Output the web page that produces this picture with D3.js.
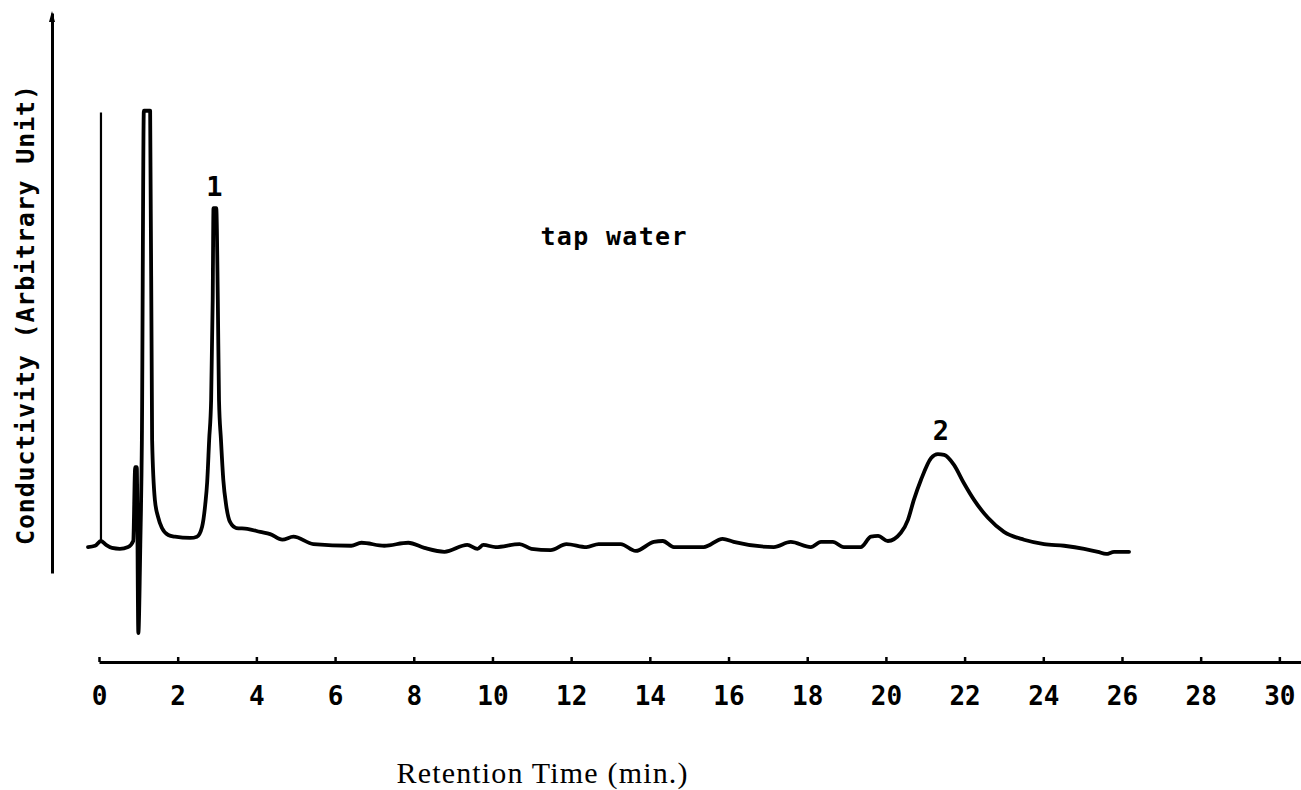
<!DOCTYPE html>
<html>
<head>
<meta charset="utf-8">
<script src="https://cdn.jsdelivr.net/npm/d3@7"></script>
<style>
    body { margin: 0; background: #fff; }
    svg { display: block; }
    .mono { font-family: "DejaVu Sans Mono", monospace; font-weight: bold; }
</style>
</head>
<body>
<div id="wrapper"></div>
<script>

// retention time (min) and conductivity (arbitrary unit)
const times = [
    -0.28, -0.10, 0.05, 0.18, 0.33, 0.53, 0.74, 0.87, 0.92, 0.96,
    1.00, 1.05, 1.09, 1.14, 1.30, 1.35, 1.42, 1.50, 1.60, 1.76,
    1.93, 2.32, 2.49, 2.62, 2.70, 2.75, 2.80, 2.85, 2.89, 2.91,
    2.98, 3.02, 3.05, 3.10, 3.16, 3.23, 3.33, 3.49, 3.77, 4.10,
    4.35, 4.66, 4.94, 5.45, 6.41, 6.67, 7.25, 7.86, 8.27, 8.78,
    9.36, 9.62, 9.77, 10.08, 10.69, 10.99, 11.48, 11.88, 12.39, 12.70,
    13.26, 13.64, 14.10, 14.33, 14.61, 15.37, 15.85, 16.13, 17.15, 17.58,
    18.09, 18.35, 18.65, 18.93, 19.36, 19.62, 19.80, 20.05, 20.38, 20.56,
    20.71, 20.89, 21.15, 21.32, 21.48, 21.73, 21.98, 22.24, 22.60, 23.00,
    23.51, 24.02, 24.53, 25.04, 25.39, 25.60, 25.80, 26.18
];
const signal = [
    -0.5, -0.2, 0.9, 0.0, -0.7, -0.9, -0.5, 0.9, 18.0, 18.0,
    -20.4, 0.0, 24.3, 100.4, 100.4, 24.3, 10.4, 6.5, 3.9, 2.3,
    1.9, 1.6, 1.9, 4.2, 9.3, 14.6, 24.3, 33.5, 56.7, 77.9,
    77.9, 56.7, 33.5, 24.3, 15.0, 9.3, 5.3, 3.9, 3.7, 3.0,
    2.5, 1.2, 1.9, 0.2, -0.2, 0.5, -0.2, 0.5, -0.7, -1.6,
    0.0, -0.9, 0.0, -0.5, 0.2, -0.9, -1.2, 0.2, -0.5, 0.2,
    0.2, -1.4, 0.7, 0.9, -0.5, -0.5, 1.4, 0.7, -0.5, 0.7,
    -0.5, 0.7, 0.7, -0.5, -0.5, 1.9, 2.1, 0.9, 2.8, 5.8,
    10.4, 15.0, 20.1, 21.0, 20.8, 18.5, 14.3, 10.4, 6.2, 3.0,
    1.2, 0.2, -0.2, -0.9, -1.6, -2.1, -1.6, -1.6
];

// injection marker
const injectTime = 0.05;
const injectRange = [0.9, 100];

// peak numbers and the sample note
const peakNames = ['1', '2'];
const peakTimes = [2.93, 21.4];
const peakHeights = [80.7, 24.3];
const noteText = 'tap water';
const noteAt = [11.22, 69.4];

const xTicks = d3.range(0, 31, 2);
const xTitle = 'Retention Time (min.)';
const yTitle = 'Conductivity (Arbitrary Unit)';

function drawChart() {
    const dimensions = {
        width: 1301,
        height: 790,
        xAxisAt: 662,
        yAxisAt: 52
    };

    const data = times.map((t, i) => ({ t, v: signal[i] }));

    const svg = d3.select('#wrapper').append('svg')
        .attr('width', dimensions.width)
        .attr('height', dimensions.height);

    const xScale = d3.scaleLinear()
        .domain([0, 30.55])
        .range([99, 1301]);

    const yScale = d3.scaleLinear()
        .domain([-6.5, 123])
        .range([573, 13]);

    // x axis with small upward ticks
    const xAxis = svg.append('g')
        .attr('transform', `translate(0, ${dimensions.xAxisAt})`)
        .call(d3.axisBottom(xScale)
            .tickValues(xTicks)
            .tickFormat(d3.format('d'))
            .tickSizeInner(-5)
            .tickSizeOuter(0)
            .tickPadding(25));
    xAxis.select('.domain').attr('stroke-width', 3);
    xAxis.selectAll('.tick line').attr('stroke-width', 2.5);
    xAxis.selectAll('.tick text')
        .attr('class', 'mono')
        .attr('font-size', 26)
        .attr('fill', '#000');

    // y axis is just a bare line with a small arrow
    const yAxis = svg.append('g')
        .attr('transform', `translate(${dimensions.yAxisAt}, 0)`)
        .call(d3.axisLeft(yScale).tickValues([]).tickSizeOuter(0));
    yAxis.select('.domain').attr('stroke-width', 3);
    const top = yScale.range()[1];
    yAxis.append('path')
        .attr('d', `M0,${top - 2} L3,${top + 9} L-3,${top + 9} Z`)
        .attr('fill', '#000');

    // injection mark
    svg.append('line')
        .attr('x1', xScale(injectTime))
        .attr('x2', xScale(injectTime))
        .attr('y1', yScale(injectRange[0]))
        .attr('y2', yScale(injectRange[1]))
        .attr('stroke', '#000')
        .attr('stroke-width', 2.2);

    const lineGenerator = d3.line()
        .curve(d3.curveMonotoneX)
        .x(d => xScale(d.t))
        .y(d => yScale(d.v));

    svg.append('path')
        .attr('d', lineGenerator(data))
        .attr('fill', 'none')
        .attr('stroke', '#000')
        .attr('stroke-width', 3.8)
        .attr('stroke-linejoin', 'round')
        .attr('stroke-linecap', 'round');

    svg.selectAll('.peak-label')
        .data(peakNames)
        .enter().append('text')
        .attr('class', 'peak-label mono')
        .attr('x', (d, i) => xScale(peakTimes[i]))
        .attr('y', (d, i) => yScale(peakHeights[i]))
        .attr('text-anchor', 'middle')
        .attr('font-size', 27)
        .text(d => d);

    svg.append('text')
        .attr('class', 'mono')
        .attr('x', xScale(noteAt[0]))
        .attr('y', yScale(noteAt[1]))
        .attr('font-size', 25)
        .attr('textLength', 146)
        .text(noteText);

    svg.append('text')
        .attr('x', 542)
        .attr('y', 783)
        .attr('text-anchor', 'middle')
        .attr('font-family', '"Liberation Serif", serif')
        .attr('font-size', 30)
        .attr('textLength', 291)
        .text(xTitle);

    svg.append('text')
        .attr('class', 'mono')
        .attr('transform', 'translate(34, 315) rotate(-90)')
        .attr('text-anchor', 'middle')
        .attr('font-size', 25)
        .attr('textLength', 460)
        .text(yTitle);
}

drawChart();
</script>
</body>
</html>
